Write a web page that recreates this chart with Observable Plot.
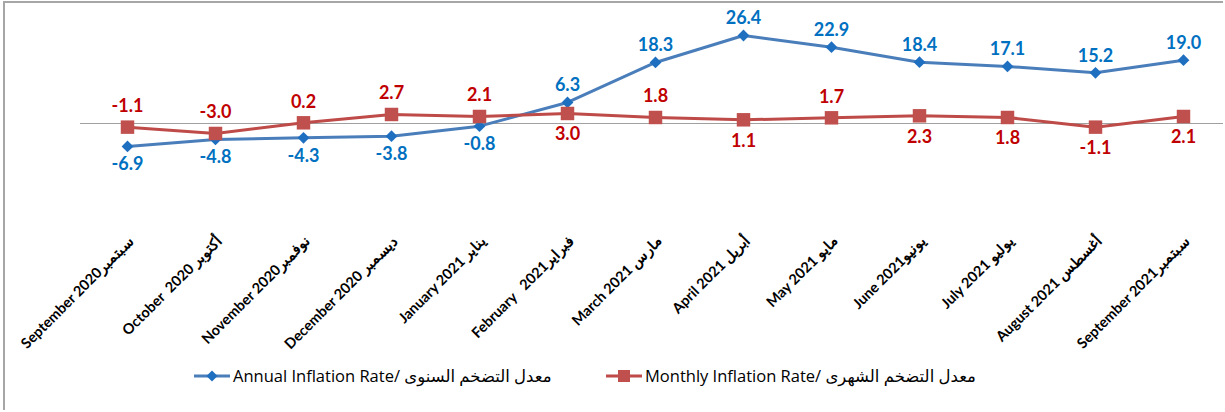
<!DOCTYPE html>
<html>
<head>
<meta charset="utf-8">
<script src="https://cdn.jsdelivr.net/npm/d3@7"></script>
<script src="https://cdn.jsdelivr.net/npm/@observablehq/plot@0.6"></script>
<style>
  html, body { margin: 0; padding: 0; background: #fff; }
  #wrap { position: relative; margin: 1px 0 0 3px; border-left: 2px solid #a6a6a6; border-top: 2px solid #a6a6a6; width: 1220px; height: 409px; box-sizing: border-box; overflow: hidden; }
  #legend { position: relative; height: 40px; font-family: "Open Sans", "DejaVu Sans", sans-serif; font-size: 16.5px; color: #000; }
  .item { position: absolute; top: 1px; display: flex; align-items: center; white-space: nowrap; }
  .item svg { margin-right: 2px; }
</style>
</head>
<body>
<div id="wrap">
  <div id="chart"></div>
  <div id="legend"></div>
</div>
<script>
const months = [
  "September 2020سبتمبر",
  "October  2020 أكتوبر",
  "November 2020نوفمبر",
  "December 2020 ديسمبر",
  "January 2021 يناير",
  "February   2021فبراير",
  "March 2021 مارس",
  "April 2021 أبريل",
  "May 2021 مايو",
  "June 2021يونيو",
  "July 2021 يوليو",
  "August 2021 أغسطس",
  "September 2021سبتمبر"
];
const annual = [-6.9, -4.8, -4.3, -3.8, -0.8, 6.3, 18.3, 26.4, 22.9, 18.4, 17.1, 15.2, 19.0];
const monthly = [-1.1, -3.0, 0.2, 2.7, 2.1, 3.0, 1.8, 1.1, 1.7, 2.3, 1.8, -1.1, 2.1];
const annualName = "Annual Inflation Rate/ معدل التضخم السنوى";
const monthlyName = "Monthly Inflation Rate/ معدل التضخم الشهرى";

// label placement (which data labels sit under their point)
const annualBelow = new Set([0, 1, 2, 3, 4]);
const monthlyBelow = new Set([5, 7, 9, 10, 11, 12]);

const blueLine = "#4a7ebb", blueMark = "#1f6fc0", blueText = "#0070c0";
const redLine = "#be4b48", redMark = "#c0504d", redText = "#c00000";

const A = months.map((m, i) => ({month: m, value: annual[i], below: annualBelow.has(i)}));
const M = months.map((m, i) => ({month: m, value: monthly[i], below: monthlyBelow.has(i)}));

const labelFont = "Lato, 'Open Sans', sans-serif";

const chart = Plot.plot({
  width: 1218,
  height: 360,
  marginLeft: 75,
  marginRight: 0,
  marginTop: 0,
  marginBottom: 125,
  x: {type: "point", domain: months, range: [118, 1181], padding: 0, label: null},
  y: {domain: [-10, 30], range: [153.3, 20], axis: null},
  style: {fontFamily: labelFont, background: "transparent", overflow: "visible"},
  marks: [
    Plot.ruleY([0], {stroke: "#a0a0a0", strokeWidth: 1.2}),
    Plot.line(A, {x: "month", y: "value", stroke: blueLine, strokeWidth: 3}),
    Plot.line(M, {x: "month", y: "value", stroke: redLine, strokeWidth: 3}),
    Plot.dot(A, {x: "month", y: "value", symbol: "diamond2", r: 5.3, fill: blueMark, stroke: null}),
    Plot.dot(M, {x: "month", y: "value", symbol: "square", r: 7.6, fill: redMark, stroke: null}),
    Plot.text(A, {x: "month", y: "value", text: d => d.value.toFixed(1), fill: blueText, fontSize: 18, fontWeight: "bold",
      filter: d => !d.below, dy: -17}),
    Plot.text(A, {x: "month", y: "value", text: d => d.value.toFixed(1), fill: blueText, fontSize: 18, fontWeight: "bold",
      filter: d => d.below, dy: 18}),
    Plot.text(M, {x: "month", y: "value", text: d => d.value.toFixed(1), fill: redText, fontSize: 18, fontWeight: "bold",
      filter: d => !d.below, dy: -21}),
    Plot.text(M, {x: "month", y: "value", text: d => d.value.toFixed(1), fill: redText, fontSize: 18, fontWeight: "bold",
      filter: d => d.below, dy: 21}),
    Plot.axisX({anchor: "bottom", tickSize: 0, tickPadding: 0, tickRotate: -45, fontSize: 14.5, fontWeight: "bold", fill: "#000", label: null, dx: 4})
  ]
});
document.getElementById("chart").appendChild(chart);

const legend = document.getElementById("legend");
function addItem(left, name, mark) {
  const d = document.createElement("div");
  d.className = "item";
  d.style.left = left + "px";
  const sw = mark === "diamond"
    ? `<svg width="38" height="14"><line x1="1" y1="7" x2="37" y2="7" stroke="${blueLine}" stroke-width="3"/><path d="M19,1.5 L24.5,7 L19,12.5 L13.5,7Z" fill="${blueMark}"/></svg>`
    : `<svg width="38" height="16"><line x1="1" y1="8" x2="37" y2="8" stroke="${redLine}" stroke-width="3"/><rect x="13" y="2" width="12" height="12" fill="${redMark}"/></svg>`;
  d.innerHTML = sw + `<span>${name}</span>`;
  legend.appendChild(d);
}
addItem(188, annualName, "diamond");
addItem(600, monthlyName, "square");
</script>
</body>
</html>
